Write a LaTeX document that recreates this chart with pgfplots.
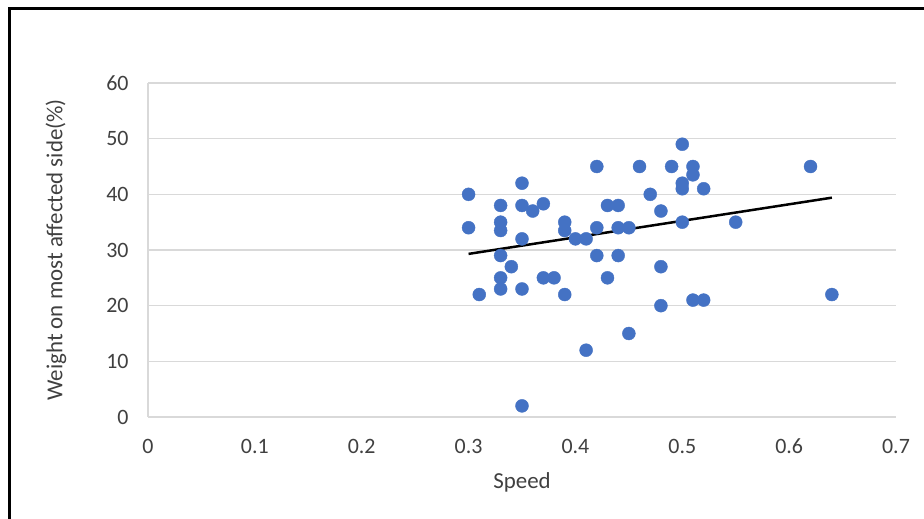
\documentclass[border=0pt]{standalone}
\usepackage{pgfplots}
\pgfplotsset{compat=1.18}
\usepackage{fontspec}
\setmainfont{Carlito}
\definecolor{excelblue}{HTML}{4472C4}
\definecolor{gridgray}{HTML}{D9D9D9}
\definecolor{txtgray}{HTML}{404040}
\begin{document}
\begin{tikzpicture}
\useasboundingbox (0,0) rectangle (924bp,519bp);
\fill[white] (0,0) rectangle (924bp,519bp);
\draw[line width=3bp, black] (9bp,0) -- (9bp,510bp) -- (924bp,510bp);
\begin{axis}[
  at={(148bp,102bp)}, anchor=south west,
  scale only axis, width=748bp, height=334bp,
  xmin=0, xmax=0.7, ymin=0, ymax=60,
  xtick={0,0.1,...,0.7}, ytick={0,10,...,60},
  xticklabels={0,0.1,0.2,0.3,0.4,0.5,0.6,0.7},
  axis x line*=bottom, axis y line*=left,
  axis line style={gridgray, line width=1.5bp},
  x axis line style={-}, y axis line style={-},
  ymajorgrids, grid style={gridgray, line width=1.5bp},
  major tick length=0pt,
  tick label style={font=\fontsize{22}{26}\selectfont, text=txtgray},
  /pgf/number format/assume math mode=true,
  xticklabel style={anchor=center, yshift=-29bp},
  yticklabel style={anchor=east, xshift=-16bp},
  xlabel={Speed}, ylabel={Weight on most affected side(\%)},
  label style={font=\fontsize{23}{27}\selectfont, text=txtgray},
  xlabel style={at={(axis description cs:0.5,-0.1946)}, anchor=center},
  ylabel style={at={(axis description cs:-0.123,0.5)}, anchor=center},
  clip=false,
]
\addplot[only marks, mark=*, mark size=6.5bp, mark options={draw=excelblue, fill=excelblue}] coordinates {
(0.30,40)(0.30,34)(0.31,22)(0.33,38)(0.33,35)(0.33,33.5)(0.33,29)(0.33,25)(0.33,23)(0.34,27)
(0.35,42)(0.35,38)(0.35,32)(0.35,23)(0.35,2)(0.36,37)(0.37,38.3)(0.37,25)(0.38,25)(0.39,35)
(0.39,33.5)(0.39,22)(0.40,32)(0.41,32)(0.41,12)(0.42,45)(0.42,34)(0.42,29)(0.43,38)(0.43,25)
(0.44,38)(0.44,34)(0.44,29)(0.45,34)(0.45,15)(0.46,45)(0.47,40)(0.48,37)(0.48,27)(0.48,20)
(0.49,45)(0.50,49)(0.50,42)(0.50,41)(0.50,35)(0.51,45)(0.51,43.5)(0.51,21)(0.52,41)(0.52,21)
(0.55,35)(0.62,45)(0.64,22)
};
\addplot[black, line width=2.5bp, no marks] coordinates {(0.30,29.3)(0.64,39.4)};
\end{axis}
\end{tikzpicture}
\end{document}
